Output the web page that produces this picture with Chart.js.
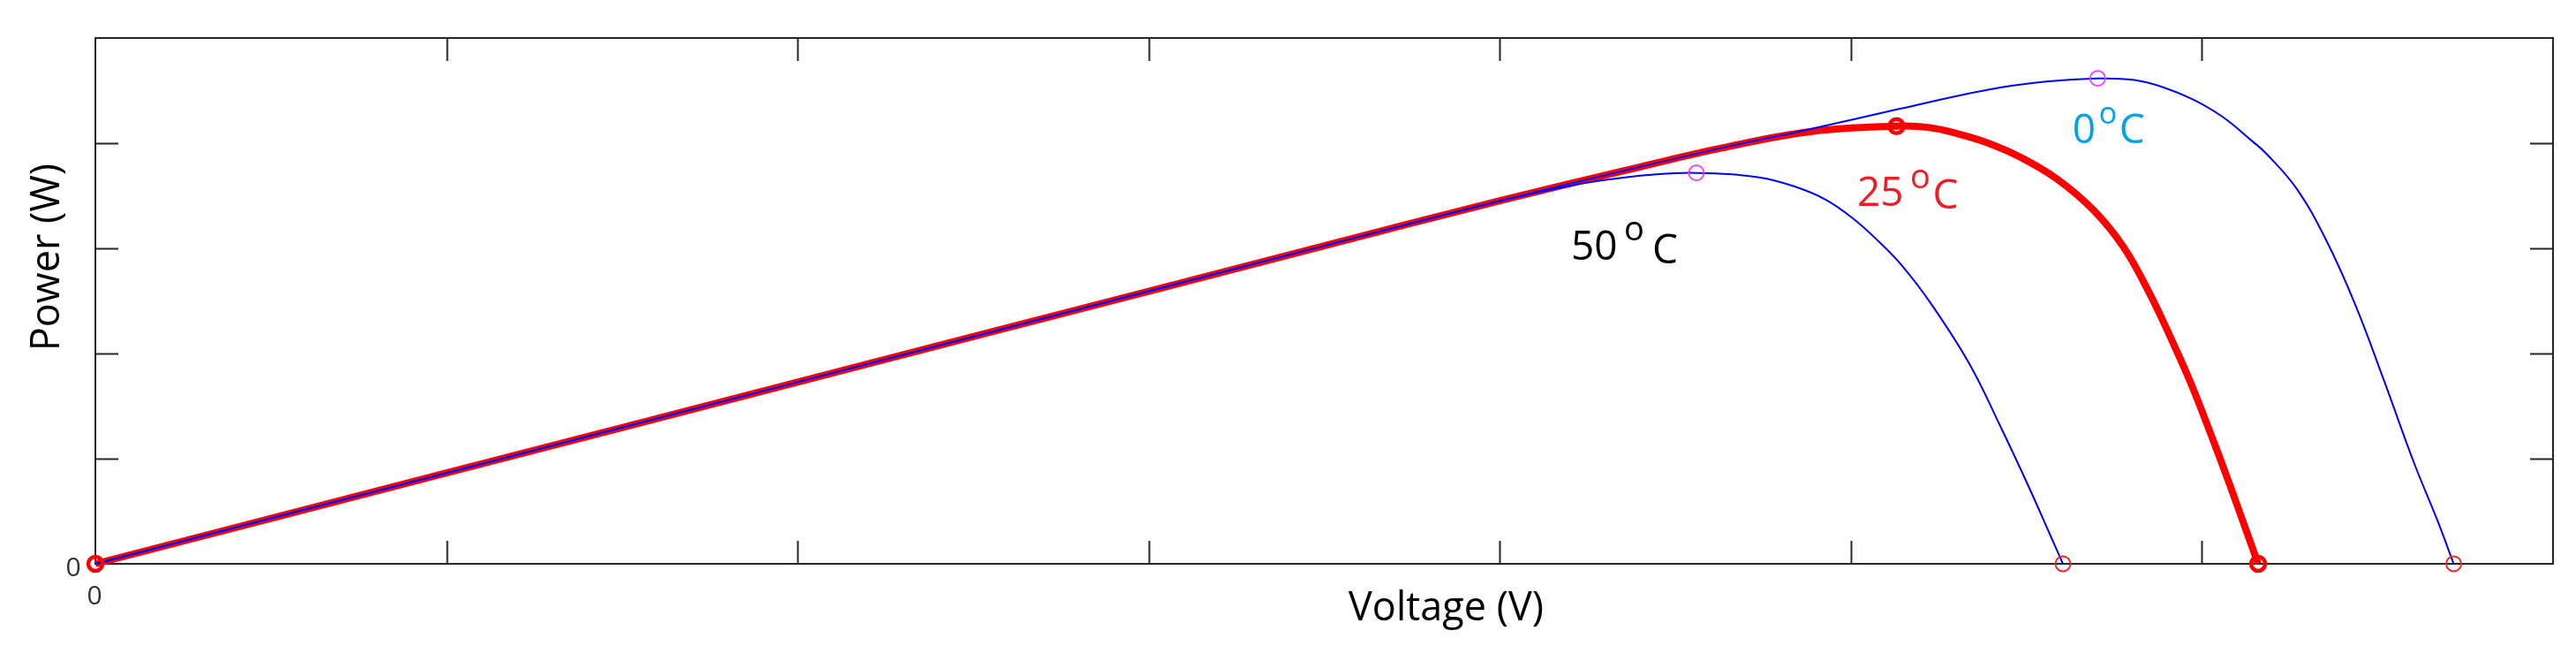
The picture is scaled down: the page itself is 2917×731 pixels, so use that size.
<!DOCTYPE html>
<html>
<head>
<meta charset="utf-8">
<script src="https://cdn.jsdelivr.net/npm/chart.js@4/dist/chart.umd.min.js"></script>
<style>
  html, body { margin: 0; padding: 0; background: #ffffff; }
  #c { display: block; }
</style>
</head>
<body>
<canvas id="c" width="2917" height="731"></canvas>
<script>
// ---------------- DATA ----------------
// P-V curves, voltage in axis units, power in axis units
const voltage25 = [0, 1, 2, 3, 3.5, 4, 4.381, 4.633, 4.885, 5.13, 5.22, 5.304, 5.388, 5.481, 5.587, 5.692, 5.777, 5.851, 5.915, 5.968, 6.021, 6.074, 6.116, 6.16];
const power25   = [0, 0.864, 1.728, 2.592, 3.024, 3.452, 3.76, 3.955, 4.11, 4.162, 4.15, 4.09, 4.005, 3.87, 3.66, 3.36, 3.01, 2.57, 2.12, 1.72, 1.27, 0.80, 0.41, 0];

const voltage0 = [0, 1, 2, 3, 3.5, 4, 4.381, 4.633, 4.885, 5.137, 5.388, 5.556, 5.703, 5.807, 5.891, 5.975, 6.059, 6.143, 6.185, 6.269, 6.352, 6.436, 6.52, 6.604, 6.671, 6.717];
const power0   = [0, 0.864, 1.728, 2.592, 3.024, 3.452, 3.76, 3.955, 4.135, 4.325, 4.507, 4.586, 4.616, 4.60, 4.53, 4.415, 4.25, 4.02, 3.895, 3.57, 3.09, 2.47, 1.73, 0.96, 0.41, 0];

const voltage50 = [0, 1, 2, 3, 3.5, 4, 4.2, 4.311, 4.432, 4.56, 4.739, 4.845, 4.93, 5.004, 5.078, 5.142, 5.227, 5.338, 5.423, 5.502, 5.571, 5.604];
const power50   = [0, 0.864, 1.728, 2.592, 3.024, 3.45, 3.595, 3.655, 3.70, 3.717, 3.675, 3.582, 3.46, 3.29, 3.07, 2.85, 2.48, 1.90, 1.328, 0.767, 0.25, 0];

// marker points
const originPoint = [0, 0];
const mpp25 = [5.13, 4.162];
const voc25 = [6.16, 0];
const mppOthersV = [4.56, 5.703];
const mppOthersP = [3.717, 4.616];
const vocOthersV = [5.604, 6.717];
const vocOthersP = [0, 0];

// axes
const xMin = 0, xMax = 7;
const yMin = 0, yMax = 5;
const xTickValues = [1, 2, 3, 4, 5, 6];
const yTickValues = [1, 2, 3, 4];
const xTickLabel = '0';
const yTickLabel = '0';
const xTitle = 'Voltage (V)';
const yTitle = 'Power (W)';

// temperature annotations
const tempNumbers = ['50', '25', '0'];
const tempDegree = 'o';
const tempUnit = 'C';

// ---------------- STYLE / LAYOUT ----------------
const labelStyle = [
  { ax: 4.203, ay: 2.891, color: '#000000', dxo: 60, dyo: -22, dxc: 92, dyc: 4, oSize: 38 },
  { ax: 5.018, ay: 3.403, color: '#ee1c24', dxo: 60, dyo: -20.5, dxc: 85.5, dyc: 3, oSize: 38 },
  { ax: 5.631, ay: 4.0, color: '#00a2e8', dxo: 30, dyo: -22.5, dxc: 53, dyc: 0, oSize: 34 }
];
const FONT = '"Open Sans", "Noto Sans", "DejaVu Sans", sans-serif';
const AXIS_COLOR = '#262626';

function pts(xs, ys) { return xs.map((x, i) => ({ x: x, y: ys[i] })); }

const framePlugin = {
  id: 'frame',
  beforeDatasetsDraw(chart) {
    const { ctx, chartArea: a, scales } = chart;
    const xs = scales.x, ys = scales.y;
    ctx.save();
    ctx.strokeStyle = AXIS_COLOR;
    ctx.lineWidth = 2;
    ctx.beginPath();
    ctx.rect(a.left, a.top, a.right - a.left, a.bottom - a.top);
    ctx.stroke();
    const tl = 26;
    ctx.beginPath();
    xTickValues.forEach(v => {
      const px = Math.round(xs.getPixelForValue(v)) + 0.5;
      ctx.moveTo(px, a.bottom); ctx.lineTo(px, a.bottom - tl);
      ctx.moveTo(px, a.top); ctx.lineTo(px, a.top + tl);
    });
    yTickValues.forEach(v => {
      const py = Math.round(ys.getPixelForValue(v)) + 0.5;
      ctx.moveTo(a.left, py); ctx.lineTo(a.left + tl, py);
      ctx.moveTo(a.right, py); ctx.lineTo(a.right - tl, py);
    });
    ctx.stroke();
    ctx.restore();
  },
  afterDraw(chart) {
    const { ctx, chartArea: a, scales } = chart;
    const xs = scales.x, ys = scales.y;
    ctx.save();
    // tick labels
    ctx.fillStyle = '#333333';
    ctx.font = '30px ' + FONT;
    ctx.textBaseline = 'alphabetic';
    ctx.textAlign = 'center';
    ctx.fillText(yTickLabel, xs.getPixelForValue(xMin) - 25, ys.getPixelForValue(yMin) + 14);
    ctx.fillText(xTickLabel, xs.getPixelForValue(xMin) - 1, ys.getPixelForValue(yMin) + 46);
    // axis titles
    ctx.fillStyle = '#000000';
    ctx.font = '45px ' + FONT;
    ctx.textAlign = 'center';
    ctx.fillText(xTitle, a.left + (a.right - a.left) * 0.5496, a.bottom + 64);
    ctx.save();
    ctx.translate(a.left - 54, a.top + (a.bottom - a.top) * 0.417);
    ctx.rotate(-Math.PI / 2);
    ctx.textBaseline = 'middle';
    ctx.fillText(yTitle, 0, 0);
    ctx.restore();
    // temperature labels
    ctx.textAlign = 'left';
    ctx.textBaseline = 'alphabetic';
    tempNumbers.forEach((n, i) => {
      const s = labelStyle[i];
      const px = xs.getPixelForValue(s.ax);
      const py = ys.getPixelForValue(s.ay);
      ctx.fillStyle = s.color;
      ctx.font = '46px ' + FONT;
      ctx.fillText(n, px, py);
      ctx.font = s.oSize + 'px ' + FONT;
      ctx.fillText(tempDegree, px + s.dxo, py + s.dyo);
      ctx.font = '46px ' + FONT;
      ctx.fillText(tempUnit, px + s.dxc, py + s.dyc);
    });
    ctx.restore();
  }
};

const lineCommon = {
  type: 'line',
  pointRadius: 0,
  pointHoverRadius: 0,
  fill: false,
  tension: 0.4,
  clip: false
};

new Chart(document.getElementById('c'), {
  type: 'line',
  data: {
    datasets: [
      { label: 'mpp25', type: 'scatter', data: [{ x: originPoint[0], y: originPoint[1] }, { x: mpp25[0], y: mpp25[1] }, { x: voc25[0], y: voc25[1] }],
        pointStyle: 'circle', pointRadius: 8, pointBorderWidth: 4.5, pointBorderColor: '#ff0000', pointBackgroundColor: 'rgba(0,0,0,0)', showLine: false, clip: false, order: -2 },
      { label: 'mppOthers', type: 'scatter', data: pts(mppOthersV, mppOthersP),
        pointStyle: 'circle', pointRadius: 8.5, pointBorderWidth: 1.8, pointBorderColor: '#ff33ff', pointBackgroundColor: 'rgba(0,0,0,0)', showLine: false, clip: false, order: -1 },
      { label: 'vocOthers', type: 'scatter', data: pts(vocOthersV, vocOthersP),
        pointStyle: 'circle', pointRadius: 8.5, pointBorderWidth: 1.8, pointBorderColor: '#ff2020', pointBackgroundColor: 'rgba(0,0,0,0)', showLine: false, clip: false, order: -1 },
      Object.assign({ label: '0 C', data: pts(voltage0, power0), borderColor: '#0000ff', borderWidth: 2, order: 0 }, lineCommon),
      Object.assign({ label: '50 C', data: pts(voltage50, power50), borderColor: '#0000ff', borderWidth: 2, order: 0 }, lineCommon),
      Object.assign({ label: '25 C', data: pts(voltage25, power25), borderColor: '#ff0000', borderWidth: 8, order: 1 }, lineCommon)
    ]
  },
  options: {
    responsive: false,
    devicePixelRatio: 1,
    animation: false,
    events: [],
    layout: { padding: { left: 108, right: 26, top: 43, bottom: 93 } },
    plugins: { legend: { display: false }, tooltip: { enabled: false } },
    scales: {
      x: { type: 'linear', min: xMin, max: xMax, display: false },
      y: { type: 'linear', min: yMin, max: yMax, display: false }
    }
  },
  plugins: [framePlugin]
});
</script>
</body>
</html>
